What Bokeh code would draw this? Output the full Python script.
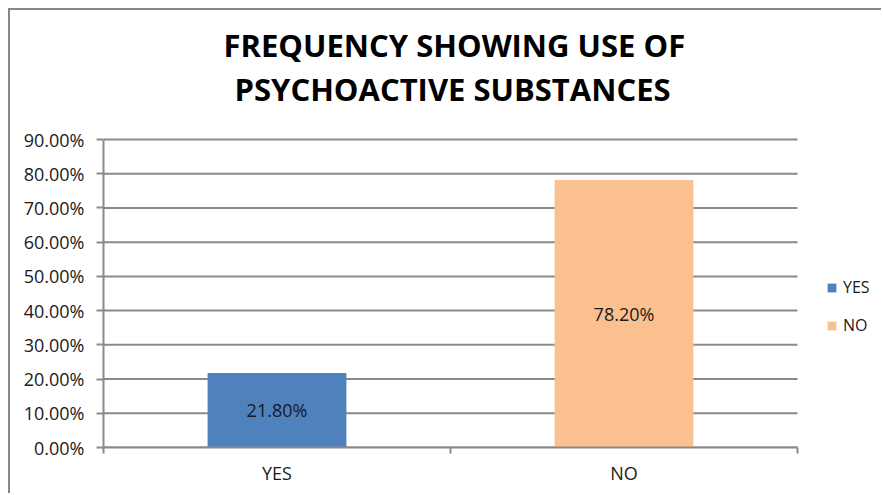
from bokeh.plotting import figure
from bokeh.models import (Range1d, FixedTicker, NumeralTickFormatter, Legend,
                          LegendItem, ColumnDataSource, Title)
from bokeh.core.properties import value
from bokeh.embed import file_html
from bokeh.resources import INLINE

categories = ["YES", "NO"]
values = [0.218, 0.782]
colors = ["#4F81BD", "#FAC08F"]
y_ticks = [0.0, 0.1, 0.2, 0.3, 0.4, 0.5, 0.6, 0.7, 0.8, 0.9]
title_lines = ["FREQUENCY SHOWING USE OF", "PSYCHOACTIVE SUBSTANCES"]

FONT = "Open Sans"
GRAY = "#8a8a8a"
TXT = "#1a1a1a"

n = len(categories)
y_max = y_ticks[-1]
x_pos = [i + 0.5 for i in range(n)]
src = ColumnDataSource(dict(
    x=x_pos,
    top=values,
    color=colors,
    cat=categories,
    label_y=[v / 2 for v in values],
    label=["%.2f%%" % (v * 100) for v in values],
))
grid_src = ColumnDataSource(dict(x0=[0] * len(y_ticks), x1=[n] * len(y_ticks),
                                 y=y_ticks))

# frame runs to the right edge (room for the legend) and 30px above the
# 90% line (room under the title); axes and grid are bounded to the data area
x_end = n * (883 - 103) / (797 - 103)
y_end = y_max * (447 - 109) / (447 - 139)

p = figure(width=873, height=485, output_backend="svg", toolbar_location=None,
           x_range=Range1d(0, x_end), y_range=Range1d(0, y_end),
           min_border_left=93, min_border_right=0, min_border_bottom=48,
           min_border_top=99, title=None)
p.margin = (8, 0, 0, 8)
p.styles = {"border-top": "2px solid #868686", "border-left": "2px solid #868686"}
p.outline_line_color = None
p.background_fill_color = "white"
p.border_fill_color = "white"

p.add_layout(Title(text=title_lines[1], align="left", text_font=FONT,
                   text_font_size="31px", text_font_style="bold",
                   text_color="black", standoff=0, offset=131), "above")
p.add_layout(Title(text=title_lines[0], align="left", text_font=FONT,
                   text_font_size="31px", text_font_style="bold",
                   text_color="black", standoff=0, offset=120), "above")

# horizontal grid lines limited to the category area
p.segment(x0="x0", x1="x1", y0="y", y1="y", source=grid_src,
          line_color=GRAY, line_width=2)

bars = p.vbar(x="x", top="top", width=0.4, bottom=0, color="color", source=src,
              line_color=None)

p.text(x="x", y="label_y", text="label", source=src, text_align="center",
       text_baseline="middle", text_font=value(FONT), text_font_size="18px",
       text_color=TXT)

# axes
p.xaxis.bounds = (0, n)
p.xaxis.ticker = FixedTicker(ticks=x_pos, minor_ticks=list(range(n + 1)))
p.xaxis.major_label_overrides = {x: c for x, c in zip(x_pos, categories)}
p.xaxis.major_tick_line_color = None
p.xaxis.minor_tick_line_color = GRAY
p.xaxis.minor_tick_line_width = 2
p.xaxis.minor_tick_in = 0
p.xaxis.minor_tick_out = 6
p.xaxis.axis_line_color = GRAY
p.xaxis.axis_line_width = 2
p.xaxis.major_label_text_font = FONT
p.xaxis.major_label_text_font_size = "18px"
p.xaxis.major_label_text_color = TXT
p.xaxis.major_label_standoff = 7

p.yaxis.bounds = (0, y_max)
p.yaxis.ticker = FixedTicker(ticks=y_ticks)
p.yaxis.formatter = NumeralTickFormatter(format="0.00%")
p.yaxis.major_tick_line_color = GRAY
p.yaxis.major_tick_line_width = 2
p.yaxis.major_tick_in = 0
p.yaxis.major_tick_out = 7
p.yaxis.minor_tick_line_color = None
p.yaxis.axis_line_color = GRAY
p.yaxis.axis_line_width = 2
p.yaxis.major_label_text_font = FONT
p.yaxis.major_label_text_font_size = "18px"
p.yaxis.major_label_text_color = TXT
p.yaxis.major_label_standoff = 12

p.xgrid.grid_line_color = None
p.ygrid.grid_line_color = None

# legend to the right of the category area
items = [LegendItem(label=c, renderers=[bars], index=i)
         for i, c in enumerate(categories)]
legend = Legend(items=items, location=(723, 111), orientation="vertical",
                label_text_font=FONT, label_text_font_size="16px",
                label_text_color=TXT, glyph_width=11, glyph_height=11,
                label_height=20, label_standoff=6, spacing=16, padding=5,
                margin=0, border_line_color=None, background_fill_alpha=0)
p.add_layout(legend, "center")

open("out.html", "w").write(file_html(p, INLINE))
